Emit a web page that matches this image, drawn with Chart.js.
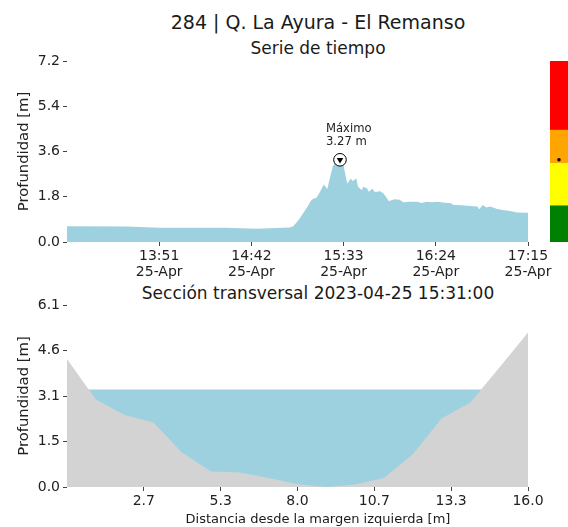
<!DOCTYPE html>
<html>
<head>
<meta charset="utf-8">
<script src="https://cdn.jsdelivr.net/npm/chart.js@4.4.1/dist/chart.umd.min.js"></script>
<style>
  body { margin: 0; background: #fff; font-family: 'DejaVu Sans', sans-serif; }
  #wrap { position: relative; width: 568px; height: 527px; overflow: hidden; }
  canvas { position: absolute; }
  .txt { position: absolute; color: #1a1a1a; white-space: nowrap; transform: translate(-50%, -50%); }
</style>
</head>
<body>
<div id="wrap">
  <div class="txt" style="left:318px;top:22px;font-size:19px">284 | Q. La Ayura - El Remanso</div>
  <div class="txt" style="left:318px;top:48px;font-size:17px">Serie de tiempo</div>
  <canvas id="seriesChart" width="568" height="280" style="left:0;top:0"></canvas>
  <canvas id="levelBar" width="18" height="181" style="left:550px;top:61px"></canvas>
  <div class="txt" style="left:318px;top:293px;font-size:17px">Sección transversal 2023-04-25 15:31:00</div>
  <canvas id="sectionChart" width="568" height="247" style="left:0;top:280px"></canvas>
  <div class="txt" style="left:318px;top:518px;font-size:13px">Distancia desde la margen izquierda [m]</div>
</div>
<script>
// --- time series (25-Apr) ---
const seriesTimes = ['13:00','13:33','13:51','14:28','14:45','15:03','15:05','15:06','15:08','15:10',
  '15:13','15:15','15:16','15:18','15:20','15:22','15:24','15:25','15:27','15:28',
  '15:30','15:31','15:32','15:33','15:34','15:35','15:37','15:38','15:40','15:41',
  '15:43','15:44','15:46','15:47','15:49','15:50','15:52','15:53','15:55','15:57',
  '15:58','16:01','16:04','16:06','16:10','16:14','16:16','16:19','16:22','16:25',
  '16:29','16:32','16:34','16:38','16:43','16:47','16:48','16:50','16:52','16:54',
  '16:58','17:01','17:05','17:09','17:15'];
const seriesDepth = [0.63, 0.62, 0.57, 0.57, 0.53, 0.58, 0.62, 0.70, 0.87, 1.07,
  1.40, 1.65, 1.71, 1.76, 2.00, 2.29, 2.11, 2.43, 3.00, 3.13,
  3.20, 3.27, 3.15, 3.04, 2.67, 2.33, 2.53, 2.43, 2.53, 2.20,
  2.07, 2.20, 2.13, 2.00, 2.13, 2.00, 2.00, 2.03, 1.94, 1.74,
  1.62, 1.70, 1.68, 1.58, 1.60, 1.60, 1.55, 1.60, 1.58, 1.60,
  1.56, 1.55, 1.47, 1.46, 1.43, 1.41, 1.30, 1.47, 1.37, 1.41,
  1.31, 1.27, 1.23, 1.17, 1.16];
const timeTickLabels = ['13:51', '14:42', '15:33', '16:24', '17:15'];
const timeTickDate = '25-Apr';
const depthTicks = [0, 1.8, 3.6, 5.4, 7.2];

// --- alert levels (side bar) ---
const levelLimits = [0, 1.44, 3.13, 4.45, 7.2];
const levelColors = ['#008000', '#ffff00', '#ffa500', '#ff0000'];

// --- cross section ---
const stationDist = [0, 1, 2, 3, 4, 5, 6, 7, 8, 9, 10, 11, 12, 13, 14, 15, 16];
const groundDepth = [4.29, 2.93, 2.41, 2.16, 1.15, 0.52, 0.49, 0.30, 0.09, 0.0, 0.08, 0.30, 1.10, 2.30, 2.83, 4.00, 5.18];
const waterLevel = 3.27;
const sectionXTicks = [2.667, 5.333, 8.0, 10.667, 13.333, 16.0];
const sectionXLabels = ['2.7', '5.3', '8.0', '10.7', '13.3', '16.0'];
const sectionYTicks = [0, 1.525, 3.05, 4.575, 6.1];
const sectionYLabels = ['0.0', '1.5', '3.1', '4.6', '6.1'];

const FONT = 'DejaVu Sans';
const TEXT = '#222';
const WATER = '#9dd1e0';
const GROUND = '#d3d3d3';

function toMin(t) {
  const [h, m] = t.split(':').map(Number);
  return h * 60 + m;
}

const seriesPoints = seriesTimes.map((t, i) => ({ x: toMin(t), y: seriesDepth[i] }));
const maxIdx = seriesDepth.indexOf(Math.max(...seriesDepth));
const maxPoint = seriesPoints[maxIdx];

const tickFont = { family: FONT, size: 14, lineHeight: 1.15 };
const tickGrid = { drawOnChartArea: false, drawTicks: true, tickLength: 4, color: '#444' };

// label above the maximum marker
const maxLabel = {
  id: 'maxLabel',
  afterDatasetsDraw(chart) {
    const { ctx, scales: { x, y } } = chart;
    const px = x.getPixelForValue(maxPoint.x);
    const py = y.getPixelForValue(maxPoint.y);
    ctx.save();
    ctx.font = '11.6px "DejaVu Sans"';
    ctx.fillStyle = TEXT;
    ctx.textAlign = 'left';
    ctx.textBaseline = 'middle';
    ctx.fillText('Máximo', px - 14, py - 31);
    ctx.fillText(maxPoint.y.toFixed(2) + ' m', px - 14, py - 18);
    ctx.restore();
  }
};

new Chart(document.getElementById('seriesChart'), {
  type: 'line',
  data: {
    datasets: [
      { data: [maxPoint], showLine: false, pointStyle: 'triangle', rotation: 180, pointRadius: 3.8,
        pointBackgroundColor: '#000', pointBorderColor: '#000', pointBorderWidth: 0, order: 0 },
      { data: [maxPoint], showLine: false, pointStyle: 'circle', pointRadius: 6.3,
        pointBackgroundColor: '#fff', pointBorderColor: '#000', pointBorderWidth: 1, order: 1 },
      { data: seriesPoints, fill: 'origin', backgroundColor: WATER, borderColor: 'rgba(0,0,0,0)',
        borderWidth: 0, pointRadius: 0, tension: 0, order: 2 }
    ]
  },
  options: {
    responsive: false,
    animation: false,
    layout: { padding: { top: 61, right: 40, left: 0, bottom: 0 } },
    plugins: { legend: { display: false }, tooltip: { enabled: false } },
    scales: {
      x: {
        type: 'linear',
        min: toMin(seriesTimes[0]),
        max: toMin(seriesTimes[seriesTimes.length - 1]),
        afterFit: s => { s.height = 38; },
        afterBuildTicks: s => { s.ticks = timeTickLabels.map(t => ({ value: toMin(t) })); },
        ticks: { callback: (v, i) => [timeTickLabels[i], timeTickDate], font: tickFont, color: TEXT,
          padding: 2, maxRotation: 0, autoSkip: false },
        grid: tickGrid,
        border: { display: false }
      },
      y: {
        min: 0,
        max: 7.2,
        afterFit: s => { s.width = 67; },
        afterBuildTicks: s => { s.ticks = depthTicks.map(v => ({ value: v })); },
        ticks: { callback: v => v.toFixed(1), font: tickFont, color: TEXT, padding: 3 },
        grid: tickGrid,
        border: { display: false },
        title: { display: true, text: 'Profundidad [m]', color: TEXT,
          font: { family: FONT, size: 14.8 }, padding: { top: 15, bottom: 0 } }
      }
    }
  },
  plugins: [maxLabel]
});

// alert level bar, same depth range as the series
new Chart(document.getElementById('levelBar'), {
  type: 'bar',
  data: {
    labels: ['nivel'],
    datasets: [
      { type: 'line', data: [maxPoint.y], showLine: false, pointRadius: 1.8,
        pointBackgroundColor: '#000', pointBorderWidth: 0, order: -1 },
      ...levelColors.map((c, i) => ({
        data: [[levelLimits[i], levelLimits[i + 1]]],
        backgroundColor: c, borderWidth: 0, grouped: false,
        barPercentage: 1, categoryPercentage: 1
      }))
    ]
  },
  options: {
    responsive: false,
    animation: false,
    layout: { padding: 0, autoPadding: false },
    plugins: { legend: { display: false }, tooltip: { enabled: false } },
    scales: {
      x: { display: false },
      y: { display: false, min: 0, max: 7.2 }
    }
  }
});

new Chart(document.getElementById('sectionChart'), {
  type: 'line',
  data: {
    datasets: [
      { data: stationDist.map((d, i) => ({ x: d, y: groundDepth[i] })), fill: 'origin',
        backgroundColor: GROUND, borderColor: 'rgba(0,0,0,0)', borderWidth: 0, pointRadius: 0, order: 0 },
      { data: [{ x: stationDist[0], y: waterLevel }, { x: stationDist[stationDist.length - 1], y: waterLevel }],
        fill: 'origin', backgroundColor: WATER, borderColor: 'rgba(0,0,0,0)', borderWidth: 0, pointRadius: 0, order: 1 }
    ]
  },
  options: {
    responsive: false,
    animation: false,
    layout: { padding: { top: 25, right: 40, left: 0, bottom: 0 } },
    plugins: { legend: { display: false }, tooltip: { enabled: false } },
    scales: {
      x: {
        type: 'linear',
        min: stationDist[0],
        max: stationDist[stationDist.length - 1],
        afterFit: s => { s.height = 40; },
        afterBuildTicks: s => { s.ticks = sectionXTicks.map(v => ({ value: v })); },
        ticks: { callback: (v, i) => sectionXLabels[i], font: tickFont, color: TEXT,
          padding: 2, maxRotation: 0, autoSkip: false },
        grid: tickGrid,
        border: { display: false }
      },
      y: {
        min: 0,
        max: 6.1,
        afterFit: s => { s.width = 67; },
        afterBuildTicks: s => { s.ticks = sectionYTicks.map(v => ({ value: v })); },
        ticks: { callback: (v, i) => sectionYLabels[i], font: tickFont, color: TEXT, padding: 3 },
        grid: tickGrid,
        border: { display: false },
        title: { display: true, text: 'Profundidad [m]', color: TEXT,
          font: { family: FONT, size: 14.8 }, padding: { top: 15, bottom: 0 } }
      }
    }
  }
});
</script>
</body>
</html>
